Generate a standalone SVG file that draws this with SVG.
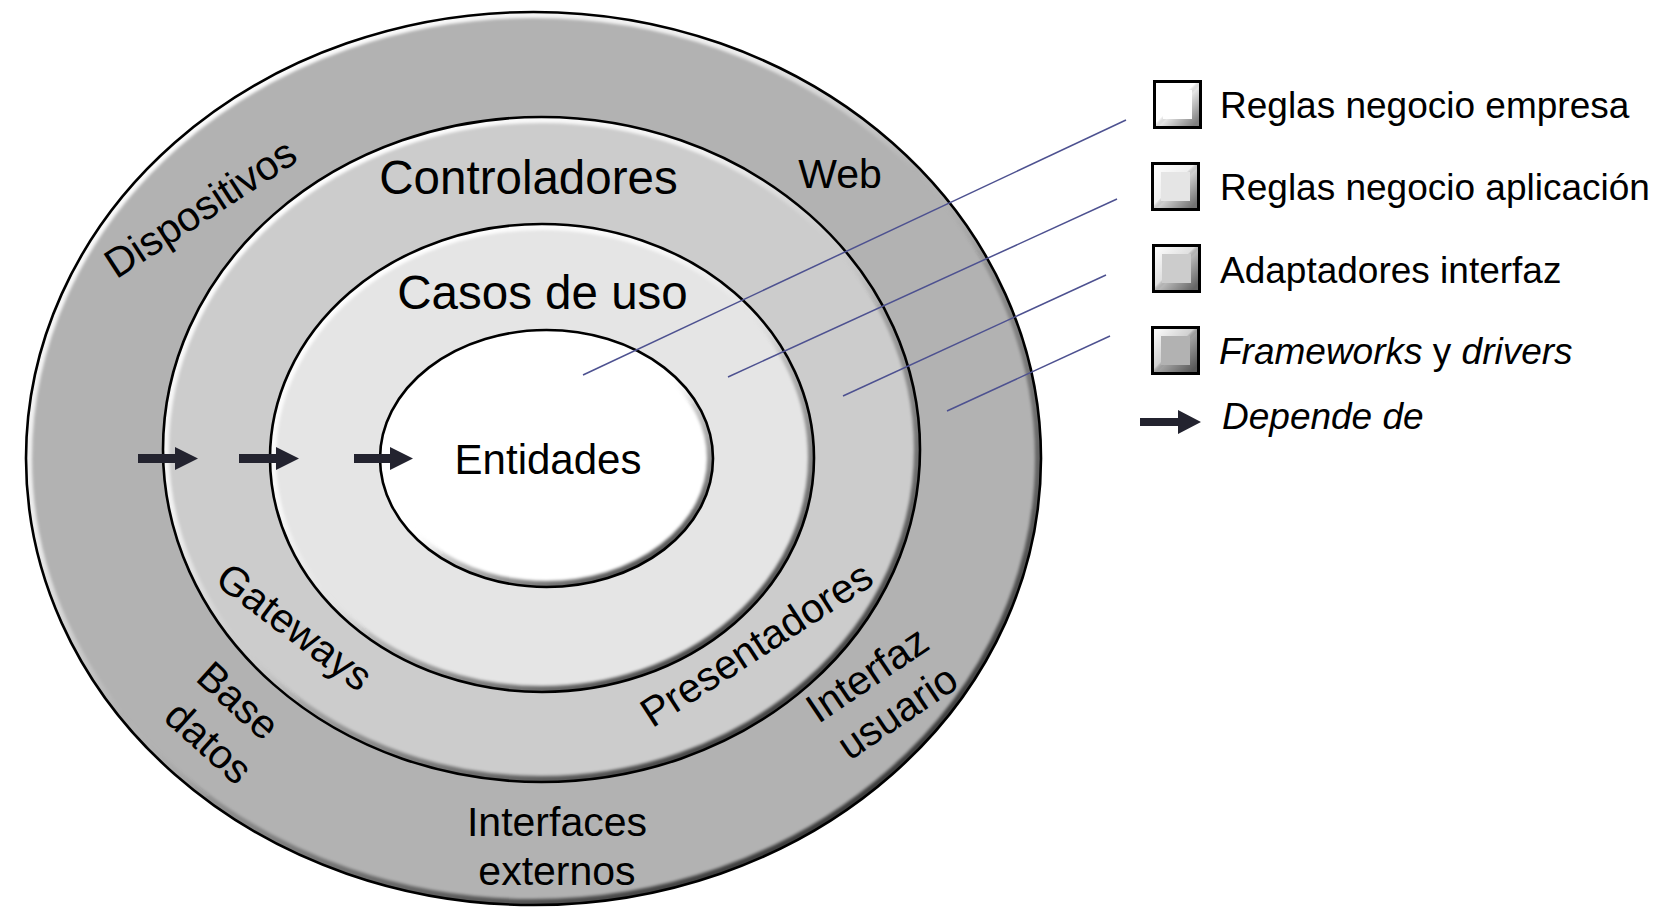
<svg xmlns="http://www.w3.org/2000/svg" width="1666" height="908" viewBox="0 0 1666 908">
<style>
text{font-family:"Liberation Sans",Arial,sans-serif;fill:#000}
.lbl{font-size:41px}
.ent{font-size:42px}
.big{font-size:47.5px}
.leg{font-size:37px}
.it{font-style:italic}
.edge{fill:none;stroke:#000;stroke-width:2.6}
.bev{fill:none;stroke:url(#bev);stroke-width:12}
.leader{stroke:#4d5190;stroke-width:1.5;fill:none}
.arr{fill:#23232f}
.box{stroke:#000;stroke-width:3}
.boxbev{fill:none;stroke:url(#bevb);stroke-width:8}
</style>
<defs>
<linearGradient id="bev" x1="0.15" y1="0.05" x2="0.85" y2="0.95">
<stop offset="0" stop-color="#fff" stop-opacity="1"/>
<stop offset="0.3" stop-color="#fff" stop-opacity="0.75"/>
<stop offset="0.48" stop-color="#fff" stop-opacity="0"/>
<stop offset="0.6" stop-color="#000" stop-opacity="0.2"/>
<stop offset="1" stop-color="#000" stop-opacity="0.75"/>
</linearGradient>
<linearGradient id="bevb" x1="0" y1="0" x2="1" y2="1">
<stop offset="0" stop-color="#fff" stop-opacity="0.9"/>
<stop offset="0.45" stop-color="#fff" stop-opacity="0.4"/>
<stop offset="0.55" stop-color="#000" stop-opacity="0.1"/>
<stop offset="1" stop-color="#000" stop-opacity="0.5"/>
</linearGradient>
<filter id="blur" x="-5%" y="-5%" width="110%" height="110%"><feGaussianBlur stdDeviation="1.8"/></filter>
<clipPath id="c1"><ellipse cx="533.5" cy="458.5" rx="507.5" ry="446.5"/></clipPath>
<clipPath id="c2"><ellipse cx="541.5" cy="449.5" rx="378.5" ry="332.5"/></clipPath>
<clipPath id="c3"><ellipse cx="542" cy="458" rx="272" ry="234"/></clipPath>
<clipPath id="c4"><ellipse cx="546.5" cy="458.5" rx="166.5" ry="128.5"/></clipPath>
</defs>
<rect width="1666" height="908" fill="#fff"/>

<g id="ring-frameworks">
<ellipse cx="533.5" cy="458.5" rx="507.5" ry="446.5" fill="#b2b2b2"/>
<ellipse class="bev" cx="533.5" cy="458.5" rx="507.5" ry="446.5" clip-path="url(#c1)" filter="url(#blur)"/>
<ellipse class="edge" cx="533.5" cy="458.5" rx="507.5" ry="446.5"/>
</g>
<g id="ring-adapters">
<ellipse cx="541.5" cy="449.5" rx="378.5" ry="332.5" fill="#cccccc"/>
<ellipse class="bev" cx="541.5" cy="449.5" rx="378.5" ry="332.5" clip-path="url(#c2)" filter="url(#blur)"/>
<ellipse class="edge" cx="541.5" cy="449.5" rx="378.5" ry="332.5"/>
</g>
<g id="ring-usecases">
<ellipse cx="542" cy="458" rx="272" ry="234" fill="#e5e5e5"/>
<ellipse class="bev" cx="542" cy="458" rx="272" ry="234" clip-path="url(#c3)" filter="url(#blur)"/>
<ellipse class="edge" cx="542" cy="458" rx="272" ry="234"/>
</g>
<g id="ring-entities">
<ellipse cx="546.5" cy="458.5" rx="166.5" ry="128.5" fill="#ffffff"/>
<ellipse class="bev" cx="546.5" cy="458.5" rx="166.5" ry="128.5" clip-path="url(#c4)" filter="url(#blur)"/>
<ellipse class="edge" cx="546.5" cy="458.5" rx="166.5" ry="128.5"/>
</g>

<g id="labels">
<text class="ent" x="548" y="474" text-anchor="middle">Entidades</text>
<text class="big" x="542.5" y="309" text-anchor="middle">Casos de uso</text>
<text class="big" x="528.5" y="194" text-anchor="middle">Controladores</text>
<text class="lbl" x="840" y="188" text-anchor="middle">Web</text>
<text class="lbl" text-anchor="middle" transform="translate(208,220) rotate(-33)">Dispositivos</text>
<text class="lbl" text-anchor="middle" transform="translate(286,638) rotate(37)">Gateways</text>
<text class="lbl" text-anchor="middle" transform="translate(764,656) rotate(-33)">Presentadores</text>
<g transform="translate(875,686) rotate(-34)">
<text class="lbl" x="0" y="0" text-anchor="middle">Interfaz</text>
<text class="lbl" x="4" y="48" text-anchor="middle">usuario</text>
</g>
<g transform="translate(229,711) rotate(42)">
<text class="lbl" x="0" y="0" text-anchor="middle">Base</text>
<text class="lbl" x="6" y="51" text-anchor="middle">datos</text>
</g>
<text class="lbl" x="557" y="836" text-anchor="middle">Interfaces</text>
<text class="lbl" x="557" y="885" text-anchor="middle">externos</text>
</g>

<g id="connectors">
<line class="leader" x1="583" y1="375" x2="1126" y2="120"/>
<line class="leader" x1="728" y1="377" x2="1117" y2="199"/>
<line class="leader" x1="843" y1="396" x2="1106" y2="275"/>
<line class="leader" x1="947" y1="411" x2="1110" y2="336"/>
<polygon class="arr" points="138,454 175,454 175,447 198,458.5 175,470 175,463 138,463"/>
<polygon class="arr" points="239,454 276,454 276,447 299,458.5 276,470 276,463 239,463"/>
<polygon class="arr" points="354,454 390,454 390,447 413,458.5 390,470 390,463 354,463"/>
</g>

<g id="legend-empresa">
<rect class="box" x="1154.5" y="81.5" width="46" height="46" fill="#ffffff"/>
<rect class="boxbev" x="1159" y="86" width="37" height="37"/>
<rect x="1154.5" y="81.5" width="46" height="46" fill="none" stroke="#000" stroke-width="3"/>
<text class="leg" x="1220" y="118">Reglas negocio empresa</text>
</g>
<g id="legend-aplicacion">
<rect class="box" x="1152.5" y="163.5" width="46" height="46" fill="#e5e5e5"/>
<rect class="boxbev" x="1157" y="168" width="37" height="37"/>
<rect x="1152.5" y="163.5" width="46" height="46" fill="none" stroke="#000" stroke-width="3"/>
<text class="leg" x="1220" y="200">Reglas negocio aplicación</text>
</g>
<g id="legend-adaptadores">
<rect class="box" x="1153.5" y="245.5" width="46" height="46" fill="#cccccc"/>
<rect class="boxbev" x="1158" y="250" width="37" height="37"/>
<rect x="1153.5" y="245.5" width="46" height="46" fill="none" stroke="#000" stroke-width="3"/>
<text class="leg" x="1220" y="283">Adaptadores interfaz</text>
</g>
<g id="legend-frameworks">
<rect class="box" x="1152.5" y="327.5" width="46" height="46" fill="#b2b2b2"/>
<rect class="boxbev" x="1157" y="332" width="37" height="37"/>
<rect x="1152.5" y="327.5" width="46" height="46" fill="none" stroke="#000" stroke-width="3"/>
<text class="leg" x="1219" y="364"><tspan class="it">Frameworks</tspan> y <tspan class="it">drivers</tspan></text>
</g>
<g id="legend-depende">
<polygon class="arr" points="1140,418 1178,418 1178,410 1201,422 1178,434 1178,426 1140,426"/>
<text class="leg it" x="1222" y="429">Depende de</text>
</g>
</svg>
